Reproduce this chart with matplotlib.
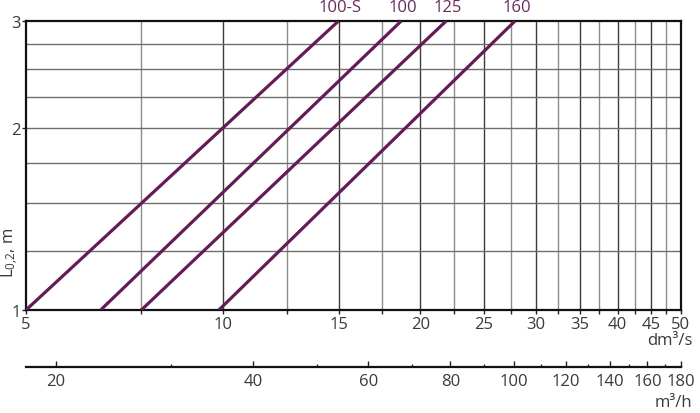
import matplotlib
matplotlib.use("Agg")
import matplotlib.pyplot as plt
from matplotlib.ticker import NullFormatter, FixedLocator, FixedFormatter

plt.rcParams['font.family'] = ['Open Sans', 'DejaVu Sans']

# Data: flow (dm3/s) at L = 1 m and L = 3 m for each size
series_names = ["100-S", "100", "125", "160"]
flow_start = [5.0, 6.5, 7.5, 9.85]
flow_end = [15.0, 18.7, 21.9, 27.9]
L_start = [1.0, 1.0, 1.0, 1.0]
L_end = [3.0, 3.0, 3.0, 3.0]

x_major = [5, 10, 15, 20, 25, 30, 35, 40, 45, 50]
x_minor = [7.5, 12.5, 17.5, 22.5, 27.5, 32.5, 37.5, 42.5, 47.5]
y_major = [1, 2, 3]
y_grid = [1.25, 1.5, 1.75, 2, 2.25, 2.5, 2.75]
m3h_major = [20, 40, 60, 80, 100, 120, 140, 160, 180]
m3h_minor = [30, 50, 70, 90, 110, 130, 150, 170]

TXT = '#3a3a3a'
LINE = '#641c57'
FS = 12

fig = plt.figure(figsize=(7.0, 4.14), dpi=100)
ax = fig.add_axes([26/700, 1-311/414, (681-26)/700, (311-22)/414])
ax.set_xscale('log')
ax.set_yscale('log')
ax.set_xlim(5, 50)
ax.set_ylim(1, 3)

for v in x_major[1:-1]:
    ax.axvline(v, color='#3c3c3c', lw=1.0, zorder=1)
for v in x_minor:
    ax.axvline(v, color='#8c8c8c', lw=1.0, zorder=1)
for v in y_grid:
    ax.axhline(v, color='#6e6e6e', lw=1.0, zorder=1)

for name, x0, x1, y0, y1 in zip(series_names, flow_start, flow_end, L_start, L_end):
    ax.plot([x0, x1], [y0, y1], color=LINE, lw=2.3, solid_capstyle='butt', zorder=3, clip_on=True)
    ax.annotate(name, xy=(x1, y1), xytext=(1, 4), textcoords='offset points',
                ha='center', va='bottom', color='#6a2c60', fontsize=FS, annotation_clip=False)

for s in ax.spines.values():
    s.set_color('#111111')
    s.set_linewidth(1.6)

ax.xaxis.set_major_locator(FixedLocator(x_major))
ax.xaxis.set_major_formatter(FixedFormatter([str(v) for v in x_major]))
ax.xaxis.set_minor_locator(FixedLocator(x_minor))
ax.xaxis.set_minor_formatter(NullFormatter())
ax.yaxis.set_major_locator(FixedLocator(y_major))
ax.yaxis.set_major_formatter(FixedFormatter([str(v) for v in y_major]))
ax.yaxis.set_minor_locator(FixedLocator([]))
ax.tick_params(axis='x', which='both', direction='out', length=3, width=1, color='#222222',
               labelsize=FS, labelcolor=TXT, pad=1)
ax.tick_params(axis='y', which='both', direction='out', length=3, width=1, color='#222222',
               labelsize=FS, labelcolor=TXT, pad=1)

ax.set_ylabel(r'$\mathregular{L_{0{,}2}}$, m', fontsize=FS, color=TXT)
ax.yaxis.set_label_coords(-0.008, 0.2)

fig.text(692/700, 1-341/414, 'dm³/s', ha='right', va='center', fontsize=FS, color=TXT)

# Secondary m3/h axis
sec = ax.secondary_xaxis(-(368-311)/(311-22), functions=(lambda x: x*3.6, lambda x: x/3.6))
sec.set_xscale('log')
sec.xaxis.set_major_locator(FixedLocator(m3h_major))
sec.xaxis.set_major_formatter(FixedFormatter([str(v) for v in m3h_major]))
sec.xaxis.set_minor_locator(FixedLocator(m3h_minor))
sec.xaxis.set_minor_formatter(NullFormatter())
sec.tick_params(axis='x', which='major', direction='in', length=4, width=1, color='#222222',
                labelsize=FS, labelcolor=TXT, pad=4)
sec.tick_params(axis='x', which='minor', direction='in', length=2, width=1, color='#222222')
sec.spines['bottom'].set_linewidth(1.6)
sec.spines['bottom'].set_color('#111111')

fig.text(692/700, 1-403/414, 'm³/h', ha='right', va='center', fontsize=FS, color=TXT)

fig.savefig('out.png', dpi=100)
